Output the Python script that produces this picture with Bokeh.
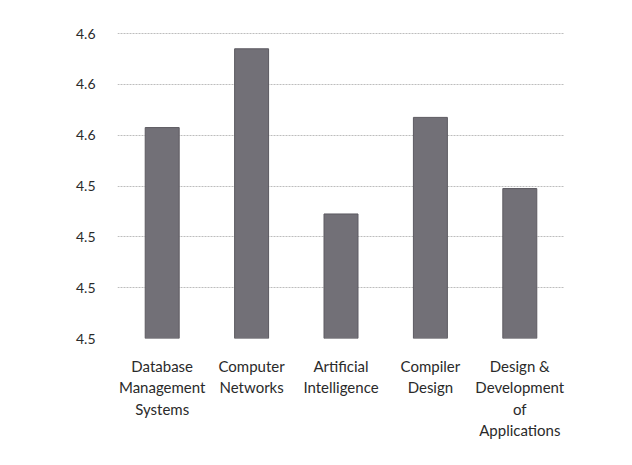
from bokeh.plotting import figure
from bokeh.models import Range1d, FixedTicker, PrintfTickFormatter
from bokeh.embed import file_html
from bokeh.resources import INLINE

categories = ["Database\nManagement\nSystems", "Computer\nNetworks", "Artificial\nIntelligence",
              "Compiler\nDesign", "Design &\nDevelopment\nof\nApplications"]
values = [4.563, 4.594, 4.529, 4.567, 4.539]
y_ticks = [4.48, 4.50, 4.52, 4.54, 4.56, 4.58, 4.60]

xs = list(range(1, len(categories) + 1))

p = figure(frame_width=447, frame_height=307, output_backend="svg", toolbar_location=None,
           x_range=Range1d(0.5, len(categories) + 0.5), y_range=Range1d(4.48, 4.6008),
           min_border_left=117, min_border_right=50, min_border_top=31, min_border_bottom=104)

p.vbar(x=xs, top=values, bottom=4.48, width=0.38, fill_color="#727077", line_color="#5c5a61")

p.xaxis.ticker = FixedTicker(ticks=xs)
p.xaxis.major_label_overrides = {x: c for x, c in zip(xs, categories)}
p.xaxis.major_label_text_font = "Lato"
p.xaxis.major_label_text_font_size = "15px"
p.xaxis.major_label_text_color = "#2a2a2a"
p.xaxis.major_label_standoff = 12
p.xaxis.axis_line_color = None
p.xaxis.major_tick_line_color = None
p.xaxis.minor_tick_line_color = None

p.yaxis.ticker = FixedTicker(ticks=y_ticks)
p.yaxis.formatter = PrintfTickFormatter(format="%.1f")
p.yaxis.major_label_text_font = "Lato"
p.yaxis.major_label_text_font_size = "14px"
p.yaxis.major_label_text_color = "#2a2a2a"
p.yaxis.major_label_standoff = 16
p.yaxis.axis_line_color = None
p.yaxis.major_tick_line_color = None
p.yaxis.minor_tick_line_color = None

p.xgrid.grid_line_color = None
p.ygrid.grid_line_color = "#bdbdbd"
p.ygrid.grid_line_dash = "2 1"
p.outline_line_color = None
p.background_fill_color = "white"
p.border_fill_color = "white"

open("out.html", "w").write(file_html(p, INLINE))
